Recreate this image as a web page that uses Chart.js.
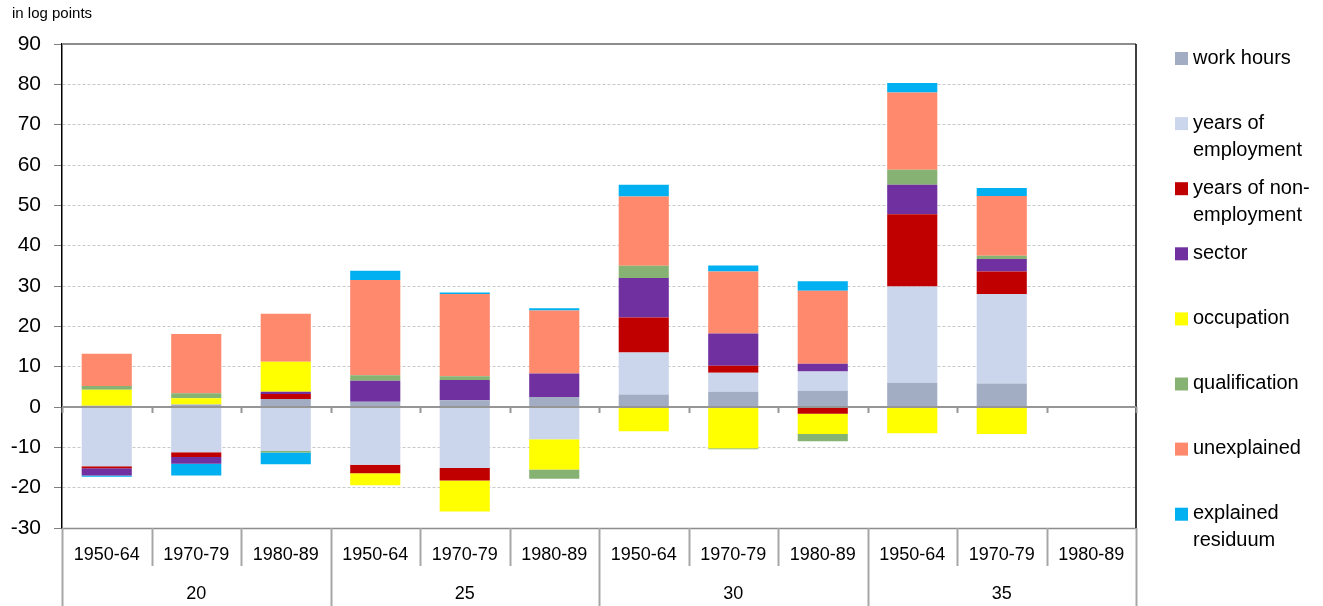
<!DOCTYPE html>
<html>
<head>
<meta charset="utf-8">
<script src="https://cdn.jsdelivr.net/npm/chart.js@4.4.1/dist/chart.umd.min.js"></script>
<style>
  html, body { margin: 0; padding: 0; background: #fff; }
  #wrap { position: relative; width: 1323px; height: 606px; }
  #unit { position: absolute; left: 12px; top: 4px; font: 15px "Liberation Sans", Arial, sans-serif; color: #000; }
</style>
</head>
<body>
<div id="wrap">
  <div id="unit">in log points</div>
  <canvas id="chart" width="1323" height="606"></canvas>
</div>
<script>
// cohorts under each age group
const periods = ['1950-64', '1970-79', '1980-89', '1950-64', '1970-79', '1980-89',
                 '1950-64', '1970-79', '1980-89', '1950-64', '1970-79', '1980-89'];
const ageGroups = ['20', '25', '30', '35'];

// decomposition components (log points), one value per period bar
const workHours      = [0.3, 0.6, 2.0, 1.3, 1.7, 2.5, 3.1, 3.8, 4.0, 6.0, 5.8, null];
const yearsEmp       = [-14.7, -11.2, -10.9, -14.3, -15.1, -8.0, 10.4, 4.7, 4.8, 23.9, 22.2, null];
const yearsNonEmp    = [-0.5, -1.2, 1.2, -2.1, -3.1, 0, 8.7, 1.7, -1.7, 17.9, 5.6, null];
const sector         = [-1.8, -1.7, 0.6, 5.2, 5.0, 5.8, 9.8, 8.0, 1.9, 7.3, 3.1, null];
const occupation     = [4.0, 1.6, 7.4, -3.0, -7.7, -7.5, -6.0, -10.2, -5.0, -6.5, -6.7, null];
const qualification  = [0.9, 1.2, -0.4, 1.4, 0.9, -2.3, 3.0, -0.3, -1.8, 3.7, 0.8, null];
const unexplained    = [8.0, 14.7, 11.9, 23.6, 20.4, 15.6, 17.2, 15.4, 18.1, 19.2, 14.8, null];
const explainedResid = [-0.3, -2.9, -2.9, 2.3, 0.4, 0.6, 2.9, 1.5, 2.4, 2.3, 2.0, null];

const seriesNames = ['work hours', 'years of employment', 'years of non-employment', 'sector',
                     'occupation', 'qualification', 'unexplained', 'explained residuum'];
const legendLines = [['work hours'], ['years of', 'employment'], ['years of non-', 'employment'], ['sector'],
                     ['occupation'], ['qualification'], ['unexplained'], ['explained', 'residuum']];
const seriesColors = ['#A2ADC4', '#CBD5EB', '#C00000', '#7030A0', '#FFFF00', '#86B273', '#FF896C', '#00B0F0'];
const seriesValues = [workHours, yearsEmp, yearsNonEmp, sector, occupation, qualification, unexplained, explainedResid];

const FONT = '"Liberation Sans", Arial, sans-serif';

// zero line, frame, category dividers, age group row and legend
const decorPlugin = {
  id: 'decor',
  afterDraw(chart) {
    const ctx = chart.ctx;
    const area = chart.chartArea;
    const x = chart.scales.x;
    const y = chart.scales.y;
    const y0 = Math.round(y.getPixelForValue(0));
    const step = x.getPixelForValue(1) - x.getPixelForValue(0);
    const edge = i => Math.round(x.getPixelForValue(i) - step / 2) + 0.5;

    ctx.save();
    // frame: top + bottom gray, right black
    ctx.strokeStyle = '#8C8C8C';
    ctx.lineWidth = 2;
    ctx.beginPath();
    ctx.moveTo(area.left, area.top); ctx.lineTo(area.right, area.top);
    ctx.stroke();
    ctx.lineWidth = 1.5;
    ctx.beginPath();
    ctx.moveTo(area.left, area.bottom + 0.5); ctx.lineTo(area.right, area.bottom + 0.5);
    ctx.stroke();
    ctx.strokeStyle = '#000';
    ctx.lineWidth = 1.5;
    ctx.beginPath();
    ctx.moveTo(area.right, area.top); ctx.lineTo(area.right, area.bottom);
    ctx.stroke();

    // zero axis with tick marks between categories
    ctx.strokeStyle = '#969696';
    ctx.lineWidth = 2;
    ctx.beginPath();
    ctx.moveTo(area.left, y0); ctx.lineTo(area.right, y0);
    ctx.stroke();
    for (let i = 0; i <= periods.length; i++) {
      ctx.beginPath();
      ctx.moveTo(edge(i), y0); ctx.lineTo(edge(i), y0 + 6);
      ctx.stroke();
    }

    // dividers under the plot
    ctx.strokeStyle = '#A6A6A6';
    ctx.lineWidth = 2;
    for (let i = 0; i <= periods.length; i++) {
      const full = i % 3 === 0;
      ctx.beginPath();
      ctx.moveTo(edge(i), area.bottom);
      ctx.lineTo(edge(i), full ? chart.height : area.bottom + 38);
      ctx.stroke();
    }

    // age group labels
    ctx.fillStyle = '#000';
    ctx.font = '18px ' + FONT;
    ctx.textAlign = 'center';
    ctx.textBaseline = 'middle';
    ageGroups.forEach((g, k) => {
      const cx = (x.getPixelForValue(k * 3) + x.getPixelForValue(k * 3 + 2)) / 2;
      ctx.fillText(g, cx, area.bottom + 66);
    });

    // legend
    ctx.font = '20px ' + FONT;
    ctx.textAlign = 'left';
    chart.data.datasets.forEach((ds, i) => {
      const top = 58 + i * 65.1;
      ctx.fillStyle = ds.backgroundColor;
      ctx.fillRect(1175, top - 6, 13, 13);
      ctx.fillStyle = '#000';
      legendLines[i].forEach((line, j) => ctx.fillText(line, 1193, top + j * 27));
    });
    ctx.restore();
  }
};

new Chart(document.getElementById('chart'), {
  type: 'bar',
  data: {
    labels: periods,
    datasets: seriesNames.map((name, i) => ({
      label: name,
      data: seriesValues[i],
      backgroundColor: seriesColors[i],
      borderWidth: 0,
      categoryPercentage: 1,
      barPercentage: 0.56
    }))
  },
  options: {
    responsive: false,
    animation: false,
    layout: { padding: { top: 44, right: 187, left: 0, bottom: 0 } },
    plugins: {
      legend: { display: false },
      tooltip: { enabled: false }
    },
    scales: {
      x: {
        stacked: true,
        grid: { display: false, drawTicks: false },
        border: { display: false },
        ticks: { color: '#000', font: { family: FONT, size: 18 }, padding: 16, maxRotation: 0, autoSkip: false },
        afterFit(scale) { scale.height = 78; }
      },
      y: {
        stacked: true,
        min: -30,
        max: 90,
        grid: { color: '#C8C8C8', tickColor: '#7F7F7F', tickLength: 8, lineWidth: 1 },
        border: { color: '#000', width: 1.5, dash: [3, 2] },
        ticks: { stepSize: 10, color: '#000', font: { family: FONT, size: 21 }, padding: 13 },
        afterFit(scale) { scale.width = 62; }
      }
    }
  },
  plugins: [decorPlugin]
});
</script>
</body>
</html>
